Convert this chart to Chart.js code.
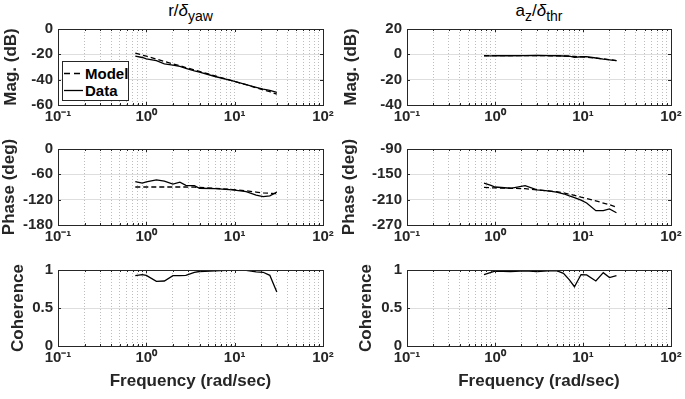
<!DOCTYPE html>
<html>
<head>
<meta charset="utf-8">
<script src="https://cdn.jsdelivr.net/npm/chart.js@4.4.1/dist/chart.umd.min.js"></script>
<style>
  body { margin: 0; background: #fff; }
  #fig { position: relative; width: 685px; height: 399px; overflow: hidden;
         font-family: "Liberation Sans", Arial, Helvetica, sans-serif; color: #262626; }
  #fig canvas { position: absolute; }
  .ttl { position: absolute; top: 1px; text-align: center; font-size: 17px; line-height: 20px; color: #000; white-space: nowrap; }
  .ttl sub { font-size: 14px; vertical-align: -5px; line-height: 0; }
  #legend { position: absolute; left: 62px; top: 61px; width: 67px; height: 40px; box-sizing: border-box;
            border: 1px solid #262626; background: #fff; }
  #legend .row { position: absolute; left: 1px; height: 17px; display: flex; align-items: center;
                 font-size: 15px; font-weight: bold; color: #000; }
  #legend svg { margin-right: 2px; }
</style>
</head>
<body>
<div id="fig">
  <div class="ttl" style="left:58px;width:265px">r/<i>δ</i><sub>yaw</sub></div>
  <div class="ttl" style="left:407px;width:264px">a<sub>z</sub>/<i>δ</i><sub>thr</sub></div>

  <canvas id="magYaw" width="340" height="129" style="left:0;top:0"></canvas>
  <canvas id="phaseYaw" width="340" height="120" style="left:0;top:129px"></canvas>
  <canvas id="cohYaw" width="340" height="150" style="left:0;top:249px"></canvas>
  <canvas id="magThr" width="345" height="129" style="left:340px;top:0"></canvas>
  <canvas id="phaseThr" width="345" height="120" style="left:340px;top:129px"></canvas>
  <canvas id="cohThr" width="345" height="150" style="left:340px;top:249px"></canvas>

  <div id="legend">
    <div class="row" style="top:3px">
      <svg width="19" height="17"><line x1="0" y1="8.5" x2="19" y2="8.5" stroke="#000" stroke-width="1.3" stroke-dasharray="6,4"/></svg>Model
    </div>
    <div class="row" style="top:20px">
      <svg width="19" height="17"><line x1="0" y1="8.5" x2="19" y2="8.5" stroke="#000" stroke-width="1.3"/></svg>Data
    </div>
  </div>
</div>

<script>
// frequency axis (rad/sec)
var xDecades = [0.1, 1, 10, 100];
var xDecadeLabels = ['10⁻¹', '10⁰', '10¹', '10²'];

// r / delta_yaw
var freqYaw       = [0.75, 0.9, 1.0, 1.3, 1.6, 2.0, 2.4, 2.8, 3.5, 4.0, 6.0, 9.5, 13.5, 17.5, 21, 25, 30];
var magYawModel   = [-19, -20.6, -21.5, -23.8, -25.6, -27.5, -29, -30.4, -32.4, -33.5, -37, -41, -44, -46.5, -48, -49.5, -51.5];
var magYawData    = [-21.5, -22.5, -23.5, -25, -27.5, -28.5, -29.5, -31, -33, -34, -37.5, -41, -44, -46, -47.5, -48.5, -50];
var phaseYawModel = [-90, -90, -90, -90, -90, -90, -90, -90, -90.5, -91, -93, -96, -99, -102, -104, -105, -106];
var phaseYawData  = [-77, -81, -78, -73, -76, -83, -78.5, -86, -87, -93, -94, -97, -101, -109, -113, -111, -102];
var cohYaw        = [0.925, 0.94, 0.93, 0.85, 0.855, 0.925, 0.925, 0.93, 0.97, 0.98, 0.99, 1.0, 0.995, 0.975, 0.97, 0.93, 0.71];

// a_z / delta_thr
var freqThr       = [0.75, 0.9, 1.0, 1.5, 2.2, 3.0, 4.0, 5.0, 6.0, 7.0, 8.0, 9.5, 11, 14, 17, 20, 24];
var magThrModel   = [-1.0, -1.0, -1.0, -1.0, -1.0, -1.0, -1.1, -1.2, -1.3, -1.5, -1.7, -2.0, -2.3, -3.0, -3.6, -4.2, -4.9];
var magThrData    = [-1.2, -1.2, -1.1, -1.1, -1.0, -0.9, -1.0, -1.1, -1.3, -1.5, -2.4, -1.9, -1.8, -2.9, -3.8, -4.4, -5.0];
var phaseThrModel = [-181, -182, -182, -183, -184, -187, -189, -191, -194, -197, -200, -204, -207, -213, -218, -222, -228];
var phaseThrData  = [-171, -176, -180, -183, -177, -187, -189, -192, -196, -201, -205, -211, -218, -236, -236, -232, -241];
var cohThr        = [0.94, 0.97, 0.985, 0.98, 0.99, 0.98, 0.99, 0.99, 0.955, 0.87, 0.78, 0.94, 0.935, 0.855, 0.965, 0.9, 0.925];

var FONT = '"Liberation Sans", Arial, Helvetica, sans-serif';
var AXIS = '#262626';

function pairs(xs, ys) {
    return xs.map(function (x, i) { return {x: x, y: ys[i]}; });
}

// axes box with inward tick marks, like the original figure
var framePlugin = {
    id: 'frame',
    afterDraw: function (chart) {
        var a = chart.chartArea, ctx = chart.ctx;
        var xs = chart.scales.x, ys = chart.scales.y;
        ctx.save();
        ctx.strokeStyle = AXIS;
        ctx.lineWidth = 1;
        ctx.beginPath();
        xs.ticks.forEach(function (t) {
            var px = Math.round(xs.getPixelForValue(t.value)) + 0.5;
            var len = xDecades.indexOf(t.value) >= 0 ? 3 : 2;
            ctx.moveTo(px, a.bottom); ctx.lineTo(px, a.bottom - len);
            ctx.moveTo(px, a.top); ctx.lineTo(px, a.top + len);
        });
        ys.ticks.forEach(function (t) {
            var py = Math.round(ys.getPixelForValue(t.value)) + 0.5;
            ctx.moveTo(a.left, py); ctx.lineTo(a.left + 3, py);
            ctx.moveTo(a.right, py); ctx.lineTo(a.right - 3, py);
        });
        ctx.stroke();
        ctx.strokeRect(Math.round(a.left) + 0.5, Math.round(a.top) + 0.5,
                       Math.round(a.right - a.left), Math.round(a.bottom - a.top));
        ctx.restore();
    }
};

function bodePanel(id, o) {
    var sets = [];
    if (o.model) {
        sets.push({ label: 'Model', data: pairs(o.freq, o.model), borderColor: '#000',
                    borderWidth: 1.3, borderDash: [5, 3], pointRadius: 0, fill: false, tension: 0 });
    }
    sets.push({ label: 'Data', data: pairs(o.freq, o.data), borderColor: '#000',
                borderWidth: 1.3, pointRadius: 0, fill: false, tension: 0 });

    return new Chart(document.getElementById(id), {
        type: 'line',
        data: { datasets: sets },
        options: {
            responsive: false,
            animation: false,
            events: [],
            layout: { padding: { top: o.padTop, right: o.padRight, left: 0, bottom: 0 } },
            plugins: { legend: { display: false }, tooltip: { enabled: false } },
            scales: {
                x: {
                    type: 'logarithmic',
                    min: 0.1,
                    max: 100,
                    afterBuildTicks: function (scale) {
                        var t = [];
                        for (var d = 0; d < 3; d++) {
                            for (var k = 1; k < 10; k++) {
                                t.push({ value: +(k * xDecades[d]).toPrecision(3) });
                            }
                        }
                        t.push({ value: 100 });
                        scale.ticks = t;
                    },
                    afterFit: function (scale) { scale.height = o.xHeight; },
                    grid: { color: '#bdbdbd', lineWidth: 1, drawTicks: false },
                    border: { display: false, dash: [1, 2] },
                    ticks: {
                        autoSkip: false, maxRotation: 0, padding: 3, color: AXIS,
                        font: { family: FONT, size: 15, weight: 'bold' },
                        callback: function (v) {
                            var i = xDecades.indexOf(v);
                            return i >= 0 ? xDecadeLabels[i] : '';
                        }
                    },
                    title: {
                        display: !!o.xTitle, text: o.xTitle || '', color: AXIS,
                        font: { family: FONT, size: 17, weight: 'bold', lineHeight: 1 },
                        padding: { top: 0, bottom: 9 }
                    }
                },
                y: {
                    min: o.yMin,
                    max: o.yMax,
                    afterFit: function (scale) { scale.width = o.yWidth; },
                    grid: { color: '#dedede', lineWidth: 1, drawTicks: false },
                    border: { display: false },
                    ticks: {
                        stepSize: o.yStep, padding: 5, color: AXIS,
                        font: { family: FONT, size: 15, weight: 'bold' },
                        callback: function (v) { return String(v); }
                    },
                    title: {
                        display: true, text: o.yTitle, color: AXIS,
                        font: { family: FONT, size: 17, weight: 'bold', lineHeight: 1 },
                        padding: { top: o.yTitlePad, bottom: 0 }
                    }
                }
            }
        },
        plugins: [framePlugin]
    });
}

// left column
bodePanel('magYaw', { freq: freqYaw, model: magYawModel, data: magYawData,
    yMin: -60, yMax: 0, yStep: 20, yTitle: 'Mag. (dB)', yTitlePad: 3,
    yWidth: 58, padRight: 17, padTop: 29, xHeight: 24 });
bodePanel('phaseYaw', { freq: freqYaw, model: phaseYawModel, data: phaseYawData,
    yMin: -180, yMax: 0, yStep: 60, yTitle: 'Phase (deg)', yTitlePad: 1,
    yWidth: 58, padRight: 17, padTop: 20, xHeight: 24 });
bodePanel('cohYaw', { freq: freqYaw, data: cohYaw,
    yMin: 0, yMax: 1, yStep: 0.5, yTitle: 'Coherence', yTitlePad: 10,
    yWidth: 58, padRight: 17, padTop: 21, xHeight: 53, xTitle: 'Frequency (rad/sec)' });

// right column
bodePanel('magThr', { freq: freqThr, model: magThrModel, data: magThrData,
    yMin: -40, yMax: 20, yStep: 20, yTitle: 'Mag. (dB)', yTitlePad: 3,
    yWidth: 67, padRight: 14, padTop: 29, xHeight: 24 });
bodePanel('phaseThr', { freq: freqThr, model: phaseThrModel, data: phaseThrData,
    yMin: -270, yMax: -90, yStep: 60, yTitle: 'Phase (deg)', yTitlePad: 1,
    yWidth: 67, padRight: 14, padTop: 20, xHeight: 24 });
bodePanel('cohThr', { freq: freqThr, data: cohThr,
    yMin: 0, yMax: 1, yStep: 0.5, yTitle: 'Coherence', yTitlePad: 17.5,
    yWidth: 67, padRight: 14, padTop: 21, xHeight: 53, xTitle: 'Frequency (rad/sec)' });
</script>
</body>
</html>
